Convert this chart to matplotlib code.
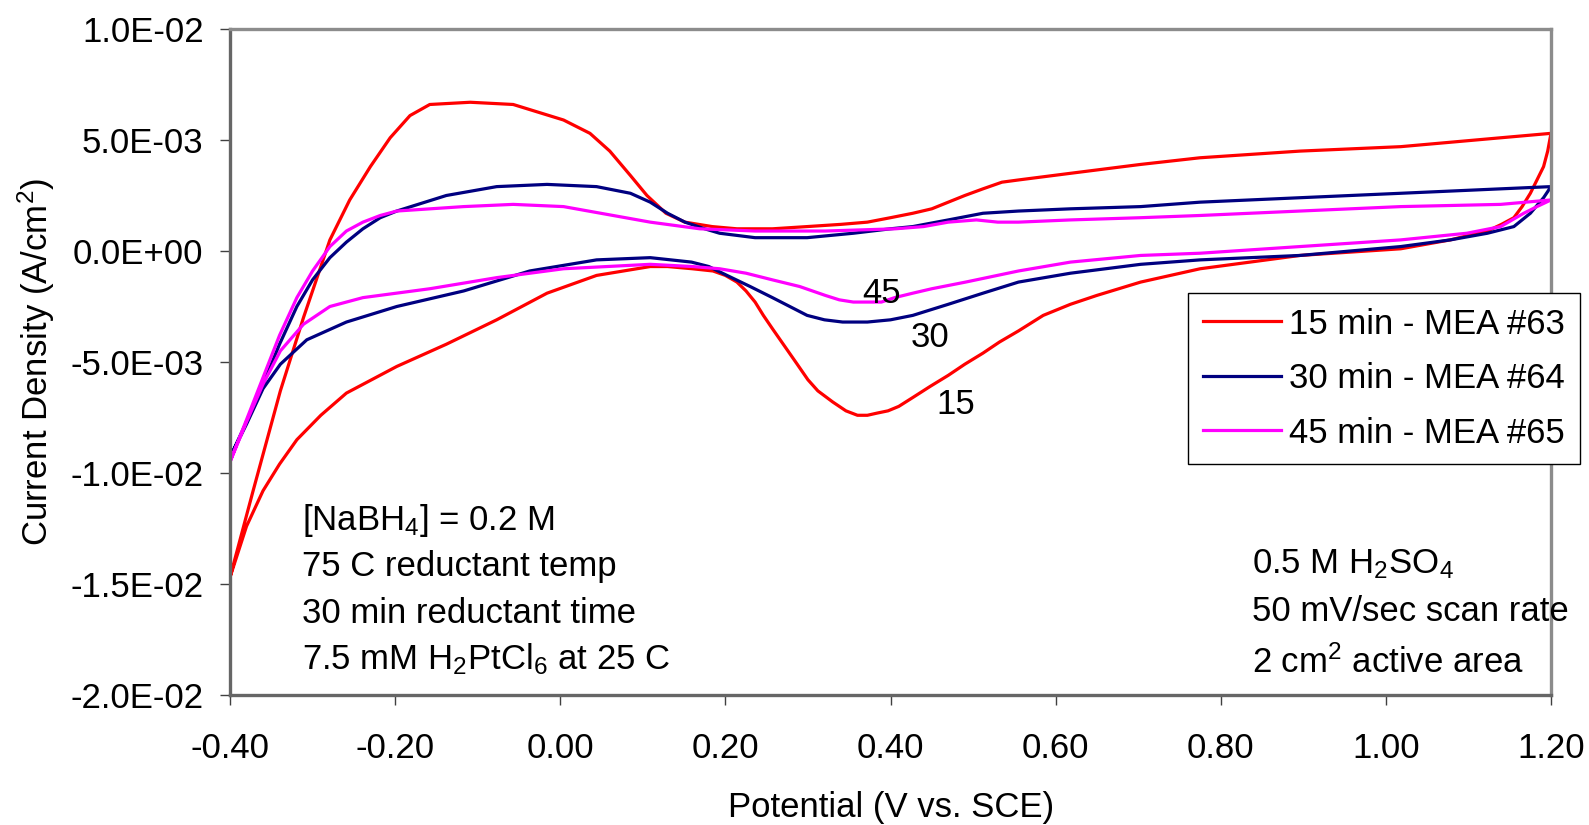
import numpy as np
import matplotlib
matplotlib.use('Agg')
import matplotlib.pyplot as plt
from matplotlib.ticker import FuncFormatter, MultipleLocator

# Cyclic voltammograms: each loop starts at -0.40 V,
# runs the anodic sweep up to 1.20 V and comes back on the cathodic sweep.
red_x = [-0.400, -0.372, -0.339, -0.311, -0.279, -0.255, -0.230, -0.206,
         -0.182, -0.158, -0.109, -0.057, 0.004, 0.036, 0.060, 0.085, 0.105,
         0.128, 0.151, 0.184, 0.214, 0.257, 0.299, 0.340, 0.372, 0.400,
         0.427, 0.450, 0.470, 0.490, 0.512, 0.535, 0.555, 0.618, 0.703,
         0.775, 0.896, 1.018, 1.139, 1.200,
         1.196, 1.191, 1.183, 1.175, 1.165, 1.155, 1.140, 1.123, 1.100,
         1.078, 1.018, 0.896, 0.775, 0.703, 0.650, 0.618, 0.585, 0.555,
         0.532, 0.512, 0.490, 0.470, 0.448, 0.427, 0.410, 0.397, 0.384,
         0.372, 0.360, 0.346, 0.330, 0.312, 0.300, 0.287, 0.272, 0.257,
         0.246, 0.236, 0.225, 0.214, 0.200, 0.185, 0.160, 0.130, 0.109,
         0.044, -0.016, -0.077, -0.138, -0.198, -0.259, -0.290, -0.319,
         -0.340, -0.360, -0.380, -0.400]
red_y = [-0.0147, -0.0108, -0.0063, -0.0030, 0.0005, 0.0023, 0.0038,
         0.0051, 0.0061, 0.0066, 0.0067, 0.0066, 0.0059, 0.0053, 0.0045,
         0.0034, 0.0025, 0.0017, 0.0013, 0.0011, 0.0010, 0.0010, 0.0011,
         0.0012, 0.0013, 0.0015, 0.0017, 0.0019, 0.0022, 0.0025, 0.0028,
         0.0031, 0.0032, 0.0035, 0.0039, 0.0042, 0.0045, 0.0047, 0.0051,
         0.0053,
         0.0045, 0.0038, 0.0032, 0.0026, 0.0020, 0.0015, 0.0012, 0.0009,
         0.0007, 0.0005, 0.0001, -0.0002, -0.0008, -0.0014, -0.0020,
         -0.0024, -0.0029, -0.0036, -0.0041, -0.0046, -0.0051, -0.0056,
         -0.0061, -0.0066, -0.0070, -0.0072, -0.0073, -0.0074, -0.0074,
         -0.0072, -0.0068, -0.0063, -0.0058, -0.0051, -0.0043, -0.0035,
         -0.0029, -0.0023, -0.0018, -0.0014, -0.0011, -0.0009, -0.0008,
         -0.0007, -0.0007, -0.0011, -0.0019, -0.0031, -0.0042, -0.0052,
         -0.0064, -0.0074, -0.0085, -0.0096, -0.0108, -0.0124, -0.0147]

blue_x = [-0.400, -0.380, -0.360, -0.340, -0.319, -0.300, -0.279, -0.259,
          -0.239, -0.218, -0.198, -0.138, -0.077, -0.016, 0.044, 0.085,
          0.109, 0.130, 0.151, 0.175, 0.193, 0.236, 0.299, 0.355, 0.400,
          0.427, 0.470, 0.512, 0.555, 0.618, 0.703, 0.775, 0.896, 1.018,
          1.139, 1.200,
          1.191, 1.175, 1.155, 1.123, 1.078, 1.018, 0.896, 0.775, 0.703,
          0.618, 0.555, 0.512, 0.470, 0.427, 0.400, 0.372, 0.342, 0.320,
          0.299, 0.278, 0.257, 0.230, 0.202, 0.180, 0.159, 0.109, 0.044,
          -0.037, -0.117, -0.198, -0.259, -0.307, -0.339, -0.360, -0.380,
          -0.400]
blue_y = [-0.0093, -0.0077, -0.0060, -0.0042, -0.0025, -0.0013, -0.0003,
          0.0004, 0.0010, 0.0015, 0.0018, 0.0025, 0.0029, 0.0030, 0.0029,
          0.0026, 0.0022, 0.0017, 0.0013, 0.0010, 0.0008, 0.0006, 0.0006,
          0.0008, 0.0010, 0.0011, 0.0014, 0.0017, 0.0018, 0.0019, 0.0020,
          0.0022, 0.0024, 0.0026, 0.0028, 0.0029,
          0.0024, 0.0017, 0.0011, 0.0008, 0.0005, 0.0002, -0.0002, -0.0004,
          -0.0006, -0.0010, -0.0014, -0.0019, -0.0024, -0.0029, -0.0031,
          -0.0032, -0.0032, -0.0031, -0.0029, -0.0025, -0.0021, -0.0016,
          -0.0011, -0.0007, -0.0005, -0.0003, -0.0004, -0.0009, -0.0018,
          -0.0025, -0.0032, -0.0040, -0.0051, -0.0062, -0.0078, -0.0093]

mag_x = [-0.400, -0.380, -0.360, -0.340, -0.319, -0.300, -0.279, -0.259,
         -0.239, -0.218, -0.198, -0.117, -0.057, 0.004, 0.064, 0.109, 0.169,
         0.236, 0.321, 0.406, 0.440, 0.470, 0.504, 0.530, 0.555, 0.618,
         0.703, 0.775, 0.896, 1.018, 1.139, 1.200,
         1.183, 1.167, 1.139, 1.098, 1.018, 0.896, 0.775, 0.703, 0.618,
         0.555, 0.491, 0.450, 0.427, 0.405, 0.389, 0.372, 0.355, 0.338,
         0.321, 0.290, 0.257, 0.225, 0.193, 0.160, 0.109, 0.004, -0.077,
         -0.158, -0.239, -0.279, -0.311, -0.339, -0.360, -0.380, -0.400]
mag_y = [-0.0095, -0.0076, -0.0057, -0.0038, -0.0021, -0.0009, 0.0002,
         0.0009, 0.0013, 0.0016, 0.0018, 0.0020, 0.0021, 0.0020, 0.0016,
         0.0013, 0.0010, 0.0009, 0.0009, 0.0010, 0.0011, 0.0013, 0.0014,
         0.0013, 0.0013, 0.0014, 0.0015, 0.0016, 0.0018, 0.0020, 0.0021,
         0.0023,
         0.0020, 0.0017, 0.0011, 0.0008, 0.0005, 0.0002, -0.0001, -0.0002,
         -0.0005, -0.0009, -0.0014, -0.0017, -0.0019, -0.0021, -0.0023,
         -0.0023, -0.0023, -0.0022, -0.0020, -0.0016, -0.0013, -0.0010,
         -0.0008, -0.0007, -0.0006, -0.0008, -0.0012, -0.0017, -0.0021,
         -0.0025, -0.0033, -0.0045, -0.0060, -0.0077, -0.0095]

labels = ['15 min - MEA #63', '30 min - MEA #64', '45 min - MEA #65']
colors = ['#ff0000', '#000080', '#ff00ff']
curve_tags = ['15', '30', '45']

left_notes = ['[NaBH$_4$] = 0.2 M', '75 C reductant temp',
              '30 min reductant time', '7.5 mM H$_2$PtCl$_6$ at 25 C']
right_notes = ['0.5 M H$_2$SO$_4$', '50 mV/sec scan rate',
               '2 cm$^2$ active area']

plt.rcParams['font.family'] = ['Liberation Sans', 'DejaVu Sans']
plt.rcParams['mathtext.fontset'] = 'custom'
plt.rcParams['mathtext.rm'] = 'Liberation Sans'
plt.rcParams['mathtext.it'] = 'Liberation Sans:italic'
plt.rcParams['mathtext.bf'] = 'Liberation Sans:bold'

W, H = 1589, 825
fig = plt.figure(figsize=(W / 100, H / 100), dpi=100)
ax_l, ax_r, ax_t, ax_b = 230, 1551, 29, 695
ax = fig.add_axes([ax_l / W, 1 - ax_b / H, (ax_r - ax_l) / W, (ax_b - ax_t) / H])

fs = 25
for xs, ys, c, lab in zip([red_x, blue_x, mag_x], [red_y, blue_y, mag_y],
                          colors, labels):
    ax.plot(xs, ys, color=c, lw=2.3, label=lab, solid_joinstyle='round')

ax.set_xlim(-0.4, 1.2)
ax.set_ylim(-0.02, 0.01)
ax.xaxis.set_major_locator(MultipleLocator(0.2))
ax.yaxis.set_major_locator(MultipleLocator(0.005))
ax.xaxis.set_major_formatter(FuncFormatter(lambda v, p: '%.2f' % v))
ax.yaxis.set_major_formatter(FuncFormatter(lambda v, p: '%.1E' % v))
ax.tick_params(axis='both', direction='out', length=7, width=1,
               color='#404040', labelsize=fs)
ax.tick_params(axis='x', pad=20)
ax.tick_params(axis='y', pad=12)

for side in ['top', 'right']:
    ax.spines[side].set_color('#8c8c8c')
    ax.spines[side].set_linewidth(2.4)
for side in ['left', 'bottom']:
    ax.spines[side].set_color('#666666')
    ax.spines[side].set_linewidth(2.4)

fig.text(891 / W, 1 - 807 / H, 'Potential (V vs. SCE)', fontsize=fs,
         ha='center', va='center')
fig.text(36 / W, 1 - 362 / H, 'Current Density (A/cm$^2$)', fontsize=fs,
         rotation=90, ha='center', va='center')

# curve tags near the reduction peaks
tag_pos = [(0.5493, 0.4224), (0.5299, 0.5228), (0.4933, 0.5883)]
for t, (tx, ty) in zip(curve_tags, tag_pos):
    ax.text(tx, ty, t, transform=ax.transAxes, fontsize=fs,
            ha='center', va='baseline')

left_base = [0.2477, 0.1781, 0.1085, 0.0390]
right_base = [0.1827, 0.1116, 0.0340]
for s, yb in zip(left_notes, left_base):
    ax.text(0.0543, yb, s, transform=ax.transAxes,
            fontsize=fs, ha='left', va='baseline')
for s, yb in zip(right_notes, right_base):
    ax.text(0.7734, yb, s, transform=ax.transAxes,
            fontsize=fs, ha='left', va='baseline')

leg = ax.legend(loc='upper left', bbox_to_anchor=(1188 / W, 1 - 293 / H),
                bbox_transform=fig.transFigure, borderaxespad=0,
                fontsize=fs, frameon=True, fancybox=False,
                handlelength=2.25, handletextpad=0.25, labelspacing=0.62,
                borderpad=0.42)
leg.get_frame().set_edgecolor('black')
leg.get_frame().set_linewidth(1.0)
leg.get_frame().set_alpha(1)

fig.savefig('out.png', dpi=100)
